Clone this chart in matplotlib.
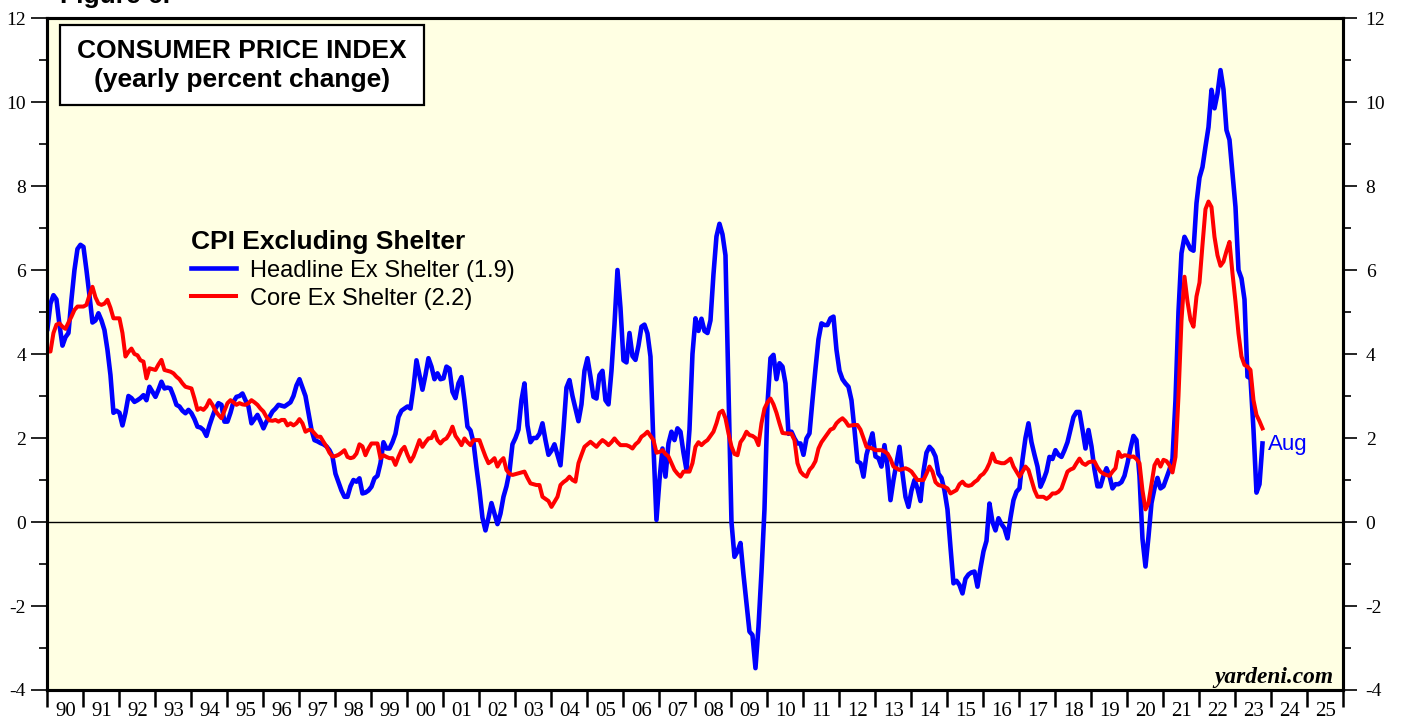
import matplotlib
matplotlib.use("Agg")
import matplotlib.pyplot as plt
import numpy as np
from matplotlib.patches import Rectangle

# monthly yearly-percent-change, starting Jan 1990
headline_ex_shelter = [
    4.6, 5.2, 5.4, 5.3, 4.7, 4.2, 4.4, 4.5, 5.3, 6.0, 6.5, 6.6,            # 1990
    6.55, 6.0, 5.4, 4.75, 4.8, 4.97, 4.8, 4.57, 4.1, 3.5, 2.6, 2.65,       # 1991
    2.6, 2.3, 2.6, 3.0, 2.95, 2.86, 2.9, 2.95, 3.02, 2.9, 3.22, 3.1,       # 1992
    2.98, 3.15, 3.34, 3.18, 3.2, 3.18, 3.0, 2.79, 2.75, 2.65, 2.59, 2.67,  # 1993
    2.59, 2.45, 2.27, 2.25, 2.19, 2.05, 2.3, 2.51, 2.7, 2.83, 2.79, 2.39,  # 1994
    2.39, 2.6, 2.86, 2.98, 3.0, 3.06, 2.9, 2.75, 2.35, 2.45, 2.55, 2.4,    # 1995
    2.23, 2.39, 2.5, 2.63, 2.7, 2.79, 2.77, 2.75, 2.8, 2.85, 3.0, 3.25,    # 1996
    3.4, 3.2, 3.0, 2.6, 2.2, 1.95, 1.92, 1.88, 1.85, 1.8, 1.71, 1.56,      # 1997
    1.15, 0.95, 0.75, 0.6, 0.6, 0.85, 1.0, 0.96, 1.04, 0.68, 0.7, 0.75,    # 1998
    0.84, 1.04, 1.1, 1.4, 1.9, 1.75, 1.75, 1.9, 2.1, 2.5, 2.65, 2.7,       # 1999
    2.75, 2.7, 3.2, 3.85, 3.5, 3.15, 3.5, 3.9, 3.7, 3.4, 3.54, 3.4,        # 2000
    3.42, 3.7, 3.65, 3.1, 2.95, 3.3, 3.45, 2.9, 2.27, 2.18, 1.9, 1.3,      # 2001
    0.75, 0.1, -0.2, 0.1, 0.45, 0.2, -0.05, 0.2, 0.6, 0.85, 1.2, 1.85,     # 2002
    2.0, 2.2, 2.9, 3.3, 2.3, 1.9, 2.0, 2.0, 2.1, 2.35, 1.95, 1.6,          # 2003
    1.7, 1.85, 1.6, 1.35, 2.2, 3.2, 3.38, 3.0, 2.7, 2.4, 2.8, 3.6,         # 2004
    3.9, 3.46, 2.98, 2.94, 3.5, 3.6, 2.9, 2.8, 3.6, 4.7, 6.0, 5.1,         # 2005
    3.85, 3.8, 4.5, 3.95, 3.86, 4.2, 4.65, 4.7, 4.49, 3.94, 1.8, 0.05,     # 2006
    1.0, 1.75, 1.08, 1.87, 2.15, 1.95, 2.23, 2.15, 1.65, 1.24, 2.2, 4.0,   # 2007
    4.85, 4.55, 4.84, 4.55, 4.5, 4.8, 5.9, 6.8, 7.1, 6.85, 6.35, 3.2,      # 2008
    0.0, -0.83, -0.7, -0.5, -1.25, -1.94, -2.61, -2.69, -3.48, -2.5, -1.2, 0.3,  # 2009
    2.8, 3.9, 3.98, 3.4, 3.78, 3.7, 3.3, 2.1, 2.15, 1.99, 1.87, 1.87,      # 2010
    1.6, 1.99, 2.11, 2.9, 3.65, 4.35, 4.73, 4.69, 4.69, 4.85, 4.89, 4.1,   # 2011
    3.6, 3.4, 3.3, 3.22, 2.9, 2.2, 1.44, 1.4, 1.08, 1.6, 1.87, 2.11,       # 2012
    1.56, 1.52, 1.32, 1.83, 1.32, 0.52, 1.0, 1.4, 1.79, 1.16, 0.6, 0.36,   # 2013
    0.75, 1.0, 0.8, 0.5, 1.2, 1.65, 1.79, 1.71, 1.56, 1.15, 1.05, 0.75,    # 2014
    0.3, -0.6, -1.46, -1.4, -1.5, -1.7, -1.35, -1.25, -1.2, -1.18, -1.54, -1.1,  # 2015
    -0.7, -0.45, 0.44, 0.0, -0.2, 0.09, -0.05, -0.15, -0.39, 0.1, 0.52, 0.72,  # 2016
    0.8, 1.48, 2.0, 2.35, 1.9, 1.6, 1.32, 0.84, 1.0, 1.2, 1.55, 1.5,       # 2017
    1.71, 1.6, 1.55, 1.71, 1.9, 2.2, 2.5, 2.62, 2.62, 2.2, 1.75, 2.19,     # 2018
    1.8, 1.25, 0.85, 0.85, 1.1, 1.28, 1.1, 0.8, 0.9, 0.9, 0.95, 1.1,       # 2019
    1.4, 1.75, 2.05, 1.95, 1.1, -0.4, -1.06, -0.35, 0.45, 0.8, 1.05, 0.8,  # 2020
    0.85, 1.05, 1.25, 1.5, 2.9, 5.0, 6.4, 6.79, 6.65, 6.5, 6.46, 7.59,     # 2021
    8.2, 8.45, 8.94, 9.4, 10.29, 9.85, 10.2, 10.76, 10.3, 9.33, 9.1, 8.3,  # 2022
    7.5, 6.0, 5.8, 5.3, 3.46, 3.42, 2.2, 0.7, 0.9, 1.87,                   # 2023
]

core_ex_shelter = [
    4.06, 4.06, 4.5, 4.7, 4.73, 4.65, 4.6, 4.75, 4.89, 5.05, 5.13, 5.13,   # 1990
    5.13, 5.17, 5.4, 5.6, 5.35, 5.2, 5.17, 5.2, 5.29, 5.1, 4.85, 4.85,     # 1991
    4.85, 4.5, 3.94, 4.05, 4.13, 4.0, 3.97, 3.85, 3.82, 3.42, 3.66, 3.64,  # 1992
    3.62, 3.75, 3.86, 3.62, 3.6, 3.58, 3.54, 3.46, 3.4, 3.3, 3.22, 3.2,    # 1993
    3.18, 2.94, 2.67, 2.71, 2.67, 2.75, 2.9, 2.79, 2.65, 2.55, 2.47, 2.65, # 1994
    2.83, 2.9, 2.85, 2.79, 2.83, 2.8, 2.79, 2.83, 2.9, 2.85, 2.79, 2.7,    # 1995
    2.63, 2.5, 2.42, 2.41, 2.43, 2.39, 2.43, 2.43, 2.3, 2.35, 2.3, 2.35,   # 1996
    2.45, 2.35, 2.15, 2.19, 2.19, 2.11, 2.03, 2.03, 1.91, 1.8, 1.65, 1.56, # 1997
    1.57, 1.6, 1.65, 1.71, 1.55, 1.52, 1.54, 1.63, 1.85, 1.8, 1.59, 1.75,  # 1998
    1.87, 1.87, 1.87, 1.52, 1.59, 1.55, 1.52, 1.52, 1.36, 1.55, 1.71, 1.79,  # 1999
    1.6, 1.44, 1.56, 1.75, 1.95, 1.79, 1.9, 1.99, 2.0, 2.15, 1.95, 1.87,   # 2000
    1.95, 1.99, 2.1, 2.27, 2.05, 1.95, 1.83, 1.99, 1.9, 1.83, 1.95, 1.95,  # 2001
    1.95, 1.75, 1.56, 1.4, 1.45, 1.52, 1.32, 1.45, 1.52, 1.24, 1.15, 1.12, # 2002
    1.14, 1.16, 1.18, 1.2, 1.05, 0.92, 0.9, 0.88, 0.88, 0.6, 0.55, 0.5,    # 2003
    0.36, 0.48, 0.6, 0.88, 0.95, 1.0, 1.08, 1.0, 0.96, 1.4, 1.6, 1.79,     # 2004
    1.85, 1.91, 1.85, 1.79, 1.88, 1.95, 1.9, 1.83, 1.9, 1.99, 1.9, 1.83,   # 2005
    1.83, 1.83, 1.8, 1.75, 1.85, 1.91, 2.03, 2.08, 2.15, 2.05, 1.95, 1.65, # 2006
    1.67, 1.71, 1.62, 1.56, 1.4, 1.24, 1.15, 1.08, 1.2, 1.2, 1.2, 1.4,     # 2007
    1.79, 1.9, 1.83, 1.9, 1.95, 2.05, 2.15, 2.35, 2.6, 2.65, 2.47, 2.11,   # 2008
    1.8, 1.62, 1.59, 1.9, 2.0, 2.15, 2.07, 2.05, 2.0, 1.83, 2.35, 2.7,     # 2009
    2.85, 2.94, 2.8, 2.6, 2.35, 2.12, 2.11, 2.11, 2.1, 1.95, 1.4, 1.2,     # 2010
    1.12, 1.08, 1.24, 1.32, 1.45, 1.75, 1.9, 2.0, 2.1, 2.2, 2.23, 2.35,    # 2011
    2.42, 2.47, 2.4, 2.29, 2.3, 2.31, 2.31, 2.2, 2.0, 1.79, 1.77, 1.75,    # 2012
    1.71, 1.71, 1.71, 1.68, 1.63, 1.5, 1.32, 1.28, 1.24, 1.26, 1.28, 1.25, # 2013
    1.2, 1.1, 1.0, 1.0, 1.0, 1.15, 1.32, 1.2, 0.95, 0.88, 0.86, 0.84,      # 2014
    0.8, 0.68, 0.72, 0.76, 0.9, 0.96, 0.88, 0.86, 0.88, 0.95, 1.0, 1.1,    # 2015
    1.15, 1.25, 1.4, 1.63, 1.44, 1.42, 1.4, 1.4, 1.45, 1.51, 1.32, 1.2,    # 2016
    1.08, 1.2, 1.32, 1.24, 1.0, 0.76, 0.6, 0.6, 0.6, 0.55, 0.6, 0.68,      # 2017
    0.68, 0.72, 0.8, 1.0, 1.2, 1.25, 1.28, 1.4, 1.51, 1.4, 1.36, 1.42,     # 2018
    1.44, 1.44, 1.3, 1.2, 1.15, 1.12, 1.1, 1.2, 1.28, 1.67, 1.55, 1.59,    # 2019
    1.58, 1.55, 1.56, 1.5, 1.4, 0.75, 0.3, 0.45, 0.9, 1.35, 1.48, 1.32,    # 2020
    1.48, 1.45, 1.35, 1.18, 1.55, 3.0, 4.8, 5.84, 5.25, 4.81, 4.65, 5.37,  # 2021
    5.7, 6.6, 7.45, 7.63, 7.5, 6.79, 6.35, 6.1, 6.2, 6.45, 6.67, 5.92,     # 2022
    5.25, 4.49, 3.94, 3.74, 3.7, 3.62, 2.9, 2.55, 2.4, 2.23,               # 2023
]

start_year = 1990
year_ticks = list(range(1990, 2027))
year_labels = [f"{y % 100:02d}" for y in range(1990, 2026)]

SANS = "Liberation Sans"
SERIF = "Liberation Serif"
plt.rcParams["font.family"] = SERIF
plt.rcParams["axes.unicode_minus"] = False

x = start_year + np.arange(len(headline_ex_shelter)) / 12.0

fig = plt.figure(figsize=(14.04, 7.21), dpi=100)
ax = fig.add_axes([0.0338, 0.043, 0.9231, 0.932])
ax.set_facecolor("#FFFFE3")

blue_line, = ax.plot(x, headline_ex_shelter, color="#0000FF", lw=3.3,
                     solid_joinstyle="round")
red_line, = ax.plot(x, core_ex_shelter, color="#FF0000", lw=2.9,
                    solid_joinstyle="round")
ax.axhline(0, color="black", lw=1.0, zorder=1)

ax.set_xlim(1990, 2026)
ax.set_ylim(-4, 12)

# left y axis
ax.set_yticks(range(-4, 13, 2))
ax.set_yticks(range(-3, 12, 2), minor=True)
ax.tick_params(axis="y", which="both", direction="out", labelsize=14, pad=4)
ax.tick_params(axis="y", which="major", length=11.5, width=1.2)
ax.tick_params(axis="y", which="minor", length=5.8, width=1.2)

# right y axis (mirror)
ax_r = ax.twinx()
ax_r.set_ylim(ax.get_ylim())
ax_r.set_yticks(range(-4, 13, 2))
ax_r.set_yticks(range(-3, 12, 2), minor=True)
ax_r.tick_params(axis="y", which="both", direction="out", labelsize=14, pad=6)
ax_r.tick_params(axis="y", which="major", length=10, width=1.2)
ax_r.tick_params(axis="y", which="minor", length=5.8, width=1.2)
ax_r.set_xticks([])

# x axis: ticks at year boundaries, labels centred in each year
ax.set_xticks(year_ticks)
ax.set_xticklabels([])
ax.set_xticks([y + 0.5 for y in range(1990, 2026)], minor=True)
ax.set_xticklabels(year_labels, minor=True)
ax.tick_params(axis="x", which="major", direction="out", length=12, width=1.8)
ax.tick_params(axis="x", which="minor", length=0, labelsize=15, pad=9)

for a in (ax, ax_r):
    for s in a.spines.values():
        s.set_linewidth(2.2)

# title box
ax.add_patch(Rectangle((0.0097, 0.8705), 0.2809, 0.119, transform=ax.transAxes,
                       facecolor="white", edgecolor="black", lw=1.6, zorder=5))
ax.text(0.150, 0.951, "CONSUMER PRICE INDEX", transform=ax.transAxes,
        ha="center", va="center", fontsize=19, fontweight="bold",
        family=SANS, zorder=6)
ax.text(0.150, 0.9077, "(yearly percent change)", transform=ax.transAxes,
        ha="center", va="center", fontsize=19, fontweight="bold",
        family=SANS, zorder=6)

leg = ax.legend([blue_line, red_line],
                ["Headline Ex Shelter (1.9)", "Core Ex Shelter (2.2)"],
                title="CPI Excluding Shelter", loc="upper left",
                bbox_to_anchor=(0.1016, 0.7025), frameon=False,
                prop={"family": SANS, "size": 17},
                title_fontproperties={"family": SANS, "size": 19, "weight": "bold"},
                alignment="left", borderpad=0, handlelength=1.9,
                handletextpad=0.6, labelspacing=0.25)

ax.annotate("Aug", xy=(x[-1], headline_ex_shelter[-1]), xytext=(4, -1),
            textcoords="offset points", ha="left", va="center",
            color="#0000FF", fontsize=16, family=SANS)

ax.text(0.992, 0.019, "yardeni.com", transform=ax.transAxes, ha="right",
        va="center", fontsize=16.8, fontweight="bold", fontstyle="italic",
        family=SERIF)

fig.text(0.0427, 0.9958, "Figure 6.", ha="left", va="baseline",
         fontsize=19, fontweight="bold", family=SANS)

fig.savefig("out.png", dpi=100)
